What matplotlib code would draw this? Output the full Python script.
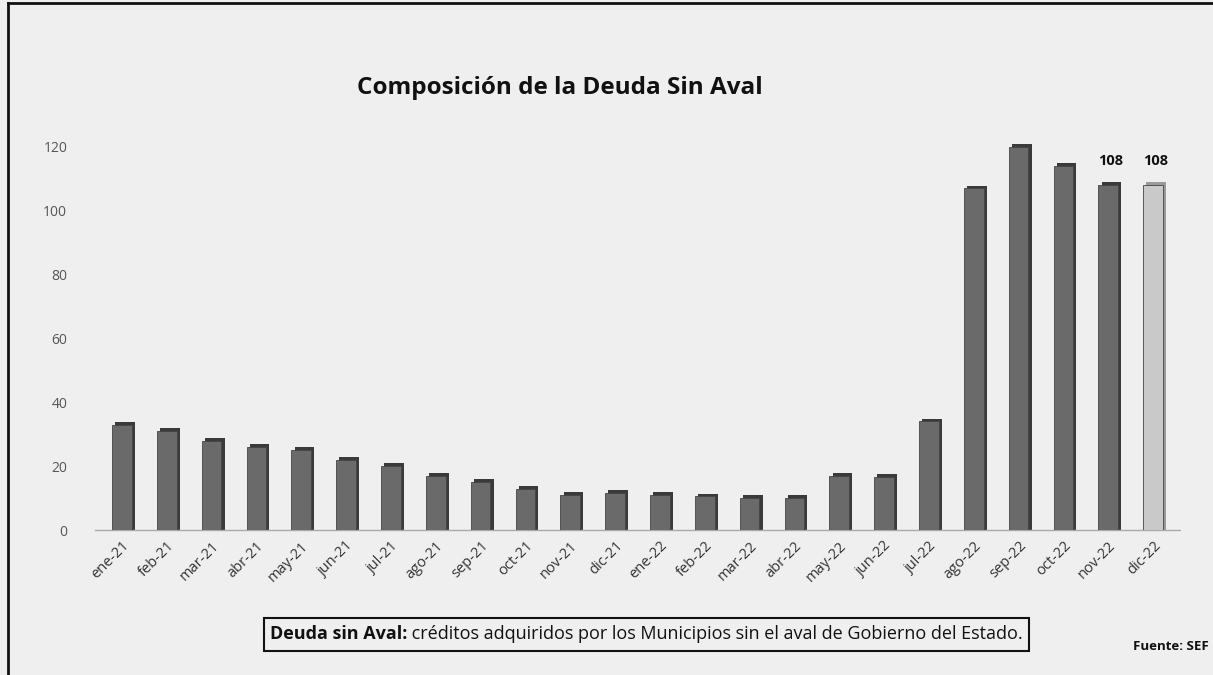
import matplotlib
matplotlib.use("Agg")
import matplotlib.pyplot as plt
from matplotlib.patches import Rectangle
from matplotlib.lines import Line2D

months = ["ene-21", "feb-21", "mar-21", "abr-21", "may-21", "jun-21", "jul-21", "ago-21",
          "sep-21", "oct-21", "nov-21", "dic-21", "ene-22", "feb-22", "mar-22", "abr-22",
          "may-22", "jun-22", "jul-22", "ago-22", "sep-22", "oct-22", "nov-22", "dic-22"]
values = [33, 31, 28, 26, 25, 22, 20, 17, 15, 13, 11, 11.5, 11, 10.5, 10, 10,
          17, 16.5, 34, 107, 120, 114, 108, 108]
labeled = {"nov-22": "108", "dic-22": "108"}
yticks = [0, 20, 40, 60, 80, 100, 120]

title = "Composición de la Deuda Sin Aval"
note_bold = "Deuda sin Aval:"
note_rest = " créditos adquiridos por los Municipios sin el aval de Gobierno del Estado."
source = "Fuente: SEF"

plt.rcParams['font.family'] = ['Open Sans', 'DejaVu Sans']

W, H = 1213, 675
fig = plt.figure(figsize=(W / 100, H / 100), dpi=100)
bg = "#efefef"
fig.patch.set_facecolor(bg)

# outer frame
fig.add_artist(Line2D([8 / W, 8 / W], [0, 1 - 3 / H], transform=fig.transFigure, color="#111111", lw=2))
fig.add_artist(Line2D([8 / W, 1], [1 - 3 / H, 1 - 3 / H], transform=fig.transFigure, color="#111111", lw=2))

ax = fig.add_axes([95 / W, 1 - 530 / H, (1180 - 95) / W, (530 - 131) / H])
ax.set_facecolor(bg)
x = list(range(len(months)))
n = len(months)
ax.set_xlim(-0.6, n - 0.4)
ax.set_ylim(0, 125)

front_colors = ["#6a6a6a"] * (n - 1) + ["#c9c9c9"]
side_colors = ["#3a3a3a"] * (n - 1) + ["#9a9a9a"]
w = 0.44
# side/top (pseudo-3D) faces
ax.bar([i + 0.07 for i in x], [v + 0.9 for v in values], width=w, color=side_colors,
       edgecolor="none", zorder=2)
ax.bar(x, values, width=w, color=front_colors, edgecolor="#444444", linewidth=0.6, zorder=3)

for i, m in enumerate(months):
    if m in labeled:
        ax.text(i + 0.05, values[i] + 5.5, labeled[m], ha="center", va="bottom",
                fontsize=10.5, fontweight="bold", color="#111111")

ax.set_yticks(yticks)
ax.set_yticklabels([str(t) for t in yticks], fontsize=10, color="#555555")
ax.set_xticks(x)
ax.set_xticklabels(months, rotation=45, ha="right", rotation_mode="anchor",
                   fontsize=10.5, color="#333333")
ax.tick_params(axis="y", length=0, pad=20)
ax.tick_params(axis="x", length=0, pad=6)
for s in ["top", "right", "left"]:
    ax.spines[s].set_visible(False)
ax.spines["bottom"].set_color("#aaaaaa")
ax.spines["bottom"].set_linestyle((0, (1, 1)))
ax.spines["bottom"].set_linewidth(1)

fig.text(560 / W, 1 - 88 / H, title, ha="center", va="center", fontsize=17.5,
         fontweight="bold", color="#111111")

# note box
t1 = fig.text(270 / W, 1 - 634 / H, note_bold, ha="left", va="center", fontsize=13,
              fontweight="bold", color="#111111")
fig.canvas.draw()
bb = t1.get_window_extent()
t2 = fig.text(bb.x1 / W, 1 - 634 / H, note_rest, ha="left", va="center", fontsize=13,
              color="#111111")
fig.canvas.draw()
bb2 = t2.get_window_extent()
x0 = (bb.x0 - 6) / W
x1 = (bb2.x1 + 6) / W
fig.add_artist(Rectangle((x0, 1 - 651 / H), x1 - x0, 33 / H, transform=fig.transFigure,
                         fill=False, edgecolor="#111111", lw=1.5))

fig.text(1209 / W, 1 - 646 / H, source, ha="right", va="center", fontsize=9.5,
         fontweight="bold", color="#111111")

fig.savefig("out.png", dpi=100, facecolor=bg)
